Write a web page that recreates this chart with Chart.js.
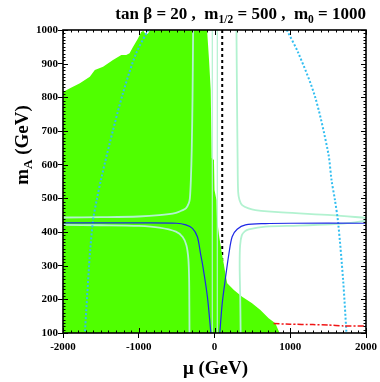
<!DOCTYPE html>
<html><head><meta charset="utf-8">
<script src="https://cdn.jsdelivr.net/npm/chart.js@4.4.1/dist/chart.umd.min.js"></script>
<style>html,body{margin:0;padding:0;background:#fff}#wrap{width:380px;height:382px;position:relative}</style>
</head><body><div id="wrap"><canvas id="c"></canvas></div>
<script>
// ---- axis ticks ----
const xTickValues = [-2000, -1000, 0, 1000, 2000];
const yTickValues = [100, 200, 300, 400, 500, 600, 700, 800, 900, 1000];

// ---- green (excluded) region: upper boundary, filled down to m_A = 100 ----
const greenMu = [-2000, -1908, -1777, -1646, -1580, -1471, -1340, -1230, -1165, -1121, -1078, -1012, -968, -938, -905, -875, -850, -98, -72, -50, -37, -7, 0, 26, 33, 59, 94, 125, 147, 168, 256, 365, 496, 606, 715, 803, 859];
const greenMA = [816, 827, 842, 861, 881, 891, 911, 926, 926, 931, 949, 974, 994, 998, 985, 990, 1000, 1000, 911, 822, 620, 614, 525, 495, 441, 391, 341, 302, 272, 248, 228, 208, 188, 168, 144, 129, 100];

// ---- light (mint) contours ----
const mint1Mu = [-2000, -1500, -1000, -728, -509, -420, -378, -340, -325, -312, -300, -290, -282];
const mint1MA = [443, 444, 446, 450, 457, 465, 470, 485, 500, 554, 650, 800, 1000];
const mint2Mu = [-2000, -1500, -1000, -728, -509, -420, -370, -345, -335, -332, -330];
const mint2MA = [421, 420, 418, 413, 401, 385, 360, 320, 260, 180, 100];
const mint3Mu = [290, 297, 305, 312, 330, 365, 450, 540, 889, 1545, 2000];
const mint3MA = [1000, 800, 620, 520, 495, 480, 470, 465, 458, 450, 442];
const mint4Mu = [345, 340, 332, 338, 360, 400, 452, 671, 1108, 1545, 1800, 2000];
const mint4MA = [100, 200, 300, 360, 390, 402, 408, 416, 419, 423, 427, 434];
const mint5Mu = [-29, -29];
const mint5MA = [100, 1000];
const mint6Mu = [37, 37];
const mint6MA = [100, 1000];

// ---- cyan dotted contours ----
const cyanLMu = [-875, -1034, -1209, -1384, -1500, -1555, -1600, -1640, -1668, -1711];
const cyanLMA = [1000, 931, 812, 663, 554, 495, 440, 350, 257, 100];
const cyanRMu = [955, 1108, 1327, 1502, 1545, 1590, 1633, 1698, 1742];
const cyanRMA = [1000, 931, 802, 634, 554, 495, 426, 257, 100];

// ---- blue contours ----
const blueLMu = [-2000, -1000, -500, -378, -291, -226, -181, -160, -94, -48];
const blueLMA = [427, 427, 426, 421, 411, 386, 331, 307, 208, 100];
const blueRMu = [70, 102, 147, 190, 233, 299, 409, 671, 1000, 2000];
const blueRMA = [100, 188, 267, 335, 386, 408, 421, 425, 426, 426];

// ---- red dash-dot ----
const redMu = [780, 1000, 1300, 1500, 1700, 2000];
const redMA = [128, 126, 125, 124, 121, 121];

// ---- black dashed ----
const dashMu = [102, 102];
const dashMA = [1000, 300];

const pts = (xs, ys) => xs.map((x, i) => ({x: x, y: ys[i]}));
const SERIF = '"Liberation Serif", "Times New Roman", Times, serif';
const MINT = 'rgb(178,242,208)';

function lineDS(xs, ys, color, width, dash, order, tension) {
  return {data: pts(xs, ys), showLine: true, borderColor: color, borderWidth: width,
    borderDash: dash || [], pointRadius: 0, fill: false, order: order, tension: tension || 0};
}

const datasets = [
  lineDS(redMu, redMA, 'rgb(240,20,20)', 1.5, [6, 2, 2, 2], 1, 0.2),
  lineDS(blueLMu, blueLMA, 'rgb(30,40,230)', 1.2, null, 2, 0.3),
  lineDS(blueRMu, blueRMA, 'rgb(30,40,230)', 1.2, null, 2, 0.3),
  lineDS(cyanLMu, cyanLMA, 'rgb(50,190,240)', 2, [2, 2], 3, 0.3),
  lineDS(cyanRMu, cyanRMA, 'rgb(50,190,240)', 2, [2, 2], 3, 0.3),
  lineDS(mint1Mu, mint1MA, MINT, 1.8, null, 4, 0.3),
  lineDS(mint2Mu, mint2MA, MINT, 1.8, null, 4, 0.3),
  lineDS(mint3Mu, mint3MA, MINT, 1.8, null, 4, 0.3),
  lineDS(mint4Mu, mint4MA, MINT, 1.8, null, 4, 0.3),
  lineDS(mint5Mu, mint5MA, MINT, 1.2, null, 4, 0),
  lineDS(mint6Mu, mint6MA, MINT, 1.2, null, 4, 0),
  {data: pts(greenMu, greenMA), showLine: true, borderWidth: 0, borderColor: 'rgba(0,0,0,0)',
   backgroundColor: 'rgb(80,255,0)', fill: 'start', pointRadius: 0, order: 10, tension: 0},
  lineDS(dashMu, dashMA, '#000', 2, [3, 3], 20, 0)
];

function drawRich(ctx, parts, x, y, align) {
  let w = 0;
  parts.forEach(p => { ctx.font = 'bold ' + p.s + 'px ' + SERIF; p.w = ctx.measureText(p.t).width; w += p.w; });
  let cx = align === 'right' ? x - w : (align === 'center' ? x - w / 2 : x);
  ctx.textBaseline = 'alphabetic'; ctx.textAlign = 'left'; ctx.fillStyle = '#000';
  parts.forEach(p => { ctx.font = 'bold ' + p.s + 'px ' + SERIF; ctx.fillText(p.t, cx, y + (p.dy || 0)); cx += p.w; });
  return w;
}

const decor = {
  id: 'decor',
  afterDraw(chart) {
    const {ctx, chartArea: a, scales: {x, y}} = chart;
    ctx.save();
    ctx.strokeStyle = '#000'; ctx.lineWidth = 1;
    const seg = (x1, y1, x2, y2) => { ctx.beginPath(); ctx.moveTo(x1, y1); ctx.lineTo(x2, y2); ctx.stroke(); };
    for (let v = -2000; v <= 2000; v += 100) {
      const px = Math.round(x.getPixelForValue(v)) + 0.5;
      const L = v % 1000 === 0 ? 5 : 2.5;
      seg(px, a.bottom, px, a.bottom - L); seg(px, a.top, px, a.top + L);
    }
    for (let v = 100; v <= 1000; v += 10) {
      const py = Math.round(y.getPixelForValue(v)) + 0.5;
      const L = v % 100 === 0 ? 5 : 2.5;
      seg(a.left, py, a.left + L, py); seg(a.right, py, a.right - L, py);
    }
    ctx.lineWidth = 1.6;
    ctx.strokeRect(a.left, a.top, a.right - a.left, a.bottom - a.top);
    // title
    const tparts = [{t: 'tan \u03b2 = 20 ,  m', s: 17}, {t: '1/2', s: 11.5, dy: 4}, {t: ' = 500 ,  m', s: 17}, {t: '0', s: 11.5, dy: 4}, {t: ' = 1000', s: 17}];
    drawRich(ctx, tparts, a.right, 19, 'right');
    // x label
    drawRich(ctx, [{t: '\u03bc (GeV)', s: 19}], (a.left + a.right) / 2 + 1, 374, 'center');
    // y label
    ctx.save();
    ctx.translate(28, 145);
    ctx.rotate(-Math.PI / 2);
    drawRich(ctx, [{t: 'm', s: 19}, {t: 'A', s: 13, dy: 4}, {t: ' (GeV)', s: 19}], 0, 0, 'center');
    ctx.restore();
    ctx.restore();
  }
};

new Chart(document.getElementById('c'), {
  type: 'scatter',
  data: {datasets: datasets},
  options: {
    responsive: true, maintainAspectRatio: false, animation: false,
    layout: {padding: {top: 30, right: 12, left: 0, bottom: 0}},
    plugins: {legend: {display: false}, tooltip: {enabled: false}, title: {display: false}},
    scales: {
      x: {type: 'linear', min: -2000, max: 2000,
        afterFit: s => { s.height = 49; },
        afterBuildTicks: s => { s.ticks = xTickValues.map(v => ({value: v})); },
        ticks: {color: '#000', font: {family: SERIF, size: 11, weight: 'bold'}, padding: 3, maxRotation: 0, autoSkip: false,
          callback: v => String(v)},
        grid: {display: true, drawOnChartArea: false, drawTicks: true, tickLength: 5, color: '#000'},
        border: {display: false}},
      y: {type: 'linear', min: 100, max: 1000,
        afterFit: s => { s.width = 63; },
        afterBuildTicks: s => { s.ticks = yTickValues.map(v => ({value: v})); },
        ticks: {color: '#000', font: {family: SERIF, size: 11, weight: 'bold'}, padding: 0, autoSkip: false,
          callback: v => String(v)},
        grid: {display: true, drawOnChartArea: false, drawTicks: true, tickLength: 5, color: '#000'},
        border: {display: false}}
    }
  },
  plugins: [decor]
});
</script>
</body></html>
